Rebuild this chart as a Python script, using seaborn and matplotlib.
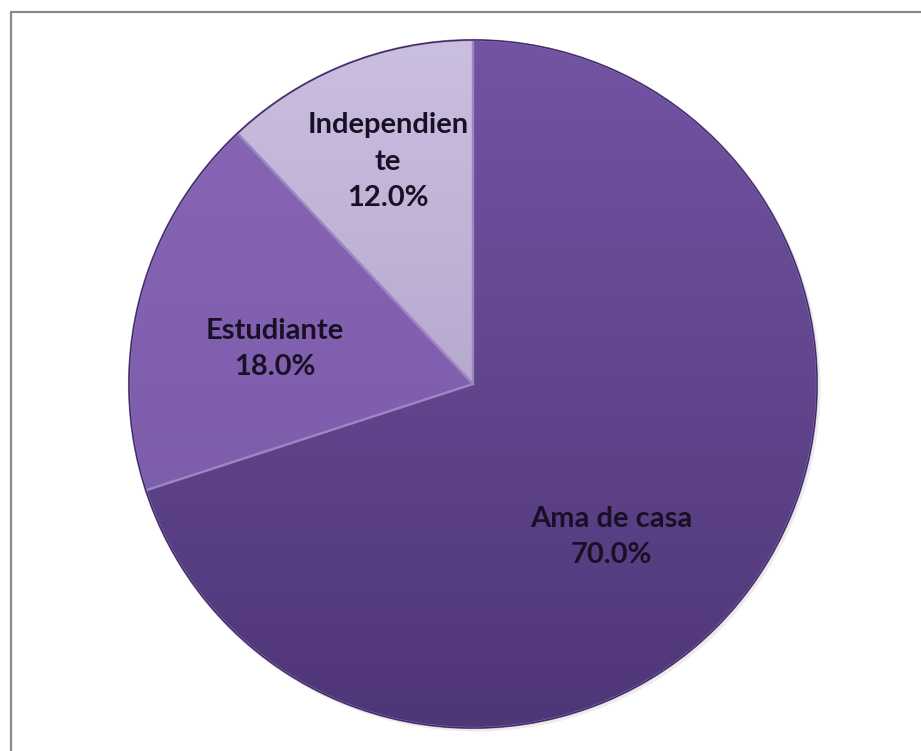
import numpy as np
import matplotlib
matplotlib.use("Agg")
import matplotlib.pyplot as plt
from matplotlib.colors import LinearSegmentedColormap
from matplotlib.lines import Line2D
import seaborn as sns

# Ocupación de las encuestadas
categorias = ["Ama de casa", "Estudiante", "Independien\nte"]
porcentajes = [70.0, 18.0, 12.0]

# colores (claro arriba, oscuro abajo) de cada sector
tonos_claros = ["#7254a3", "#8866b6", "#cbbfe0"]
tonos_oscuros = ["#4f3677", "#785aa6", "#a394bd"]

sns.set_theme(style="white")
plt.rcParams["font.family"] = ["Lato", "DejaVu Sans"]

W, H = 921, 751
fig = plt.figure(figsize=(W / 100, H / 100), dpi=100)
ax = fig.add_axes([0, 0, 1, 1])

cx, cy, r = 473.0, H - 384.0, 344.0

# sombra suave del círculo
for k, a in enumerate([0.03, 0.04, 0.05]):
    off = 1.5 + k
    sh = plt.Circle((cx + off, cy - off), r + 2 - k, color="#666666",
                    alpha=a, lw=0, zorder=0)
    ax.add_patch(sh)

wedges, _ = ax.pie(porcentajes, startangle=90, counterclock=False,
                   center=(cx, cy), radius=r,
                   colors=tonos_oscuros,
                   wedgeprops=dict(linewidth=0, zorder=1))

# degradado vertical recortado a cada sector
grad = np.linspace(0, 1, 256).reshape(-1, 1)
for w, c1, c2 in zip(wedges, tonos_claros, tonos_oscuros):
    cmap = LinearSegmentedColormap.from_list("g", [c2, c1])
    im = ax.imshow(grad, cmap=cmap, origin="lower", aspect="auto",
                   extent=(cx - r, cx + r, cy - r, cy + r), zorder=2,
                   interpolation="bilinear")
    im.set_clip_path(w)

# bordes en relieve entre sectores
for w in wedges:
    w.set_zorder(3)
    w.set_facecolor("none")
    w.set_edgecolor("#9c86c4")
    w.set_linewidth(1.6)
    w.set_alpha(0.9)
ax.add_patch(plt.Circle((cx, cy), r, fill=False, ec="#3e2a60", lw=1.0, zorder=4))

# etiquetas de datos
pos_etiquetas = [(611, 537), (275, 349), (388, 162)]
for cat, pct, (x, y) in zip(categorias, porcentajes, pos_etiquetas):
    ax.text(x, H - y, f"{cat}\n{pct:.1f}%", ha="center", va="center",
            fontsize=21, fontweight="bold", color="#1a1026",
            linespacing=1.5, zorder=5)

ax.set_xlim(0, W)
ax.set_ylim(0, H)
ax.set_aspect("auto")
ax.axis("off")

# marco del área del gráfico
fig.add_artist(Line2D([10.5 / W, 10.5 / W], [0, 1 - 11.5 / H],
                      transform=fig.transFigure, color="#8a8a8a", lw=1.6))
fig.add_artist(Line2D([10.5 / W, 1], [1 - 11.5 / H, 1 - 11.5 / H],
                      transform=fig.transFigure, color="#8a8a8a", lw=1.6))

fig.savefig("out.png", dpi=100, facecolor="white")
